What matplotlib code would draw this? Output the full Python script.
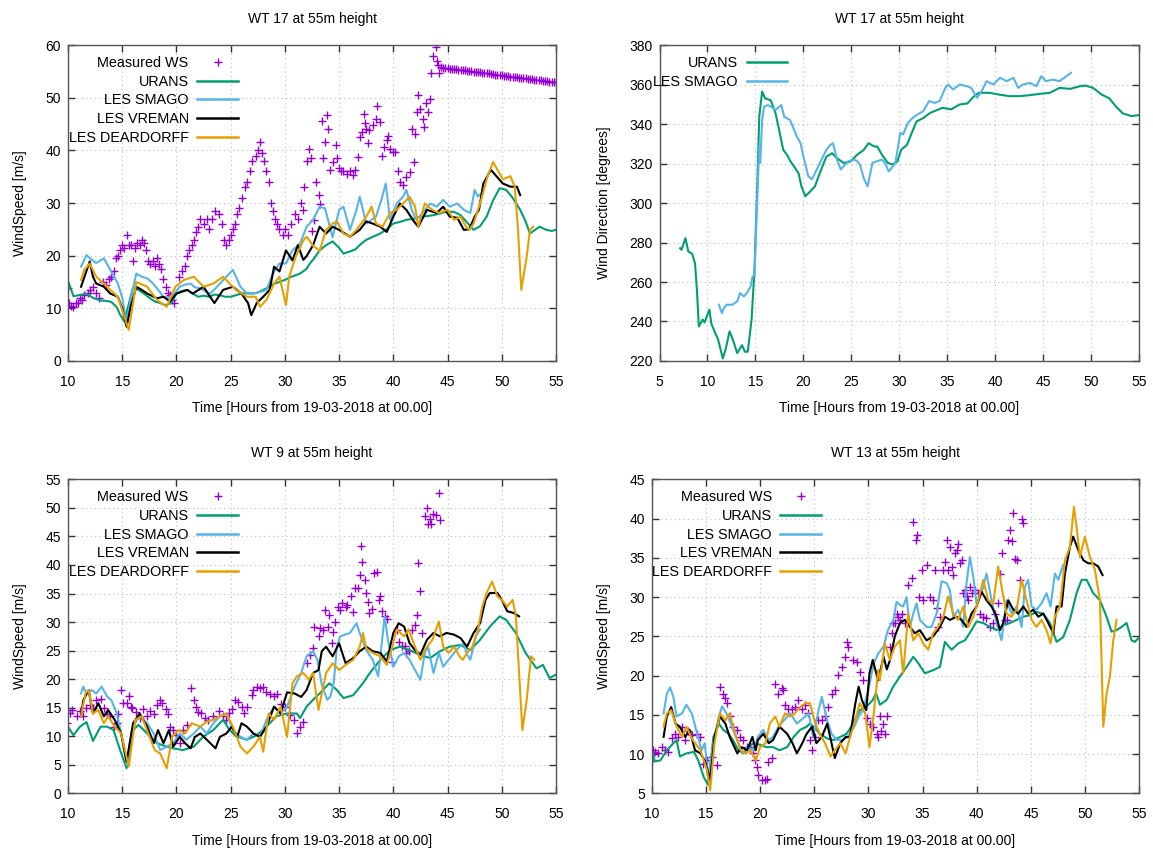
import matplotlib
matplotlib.use('Agg')
import matplotlib.pyplot as plt
from matplotlib.lines import Line2D
import numpy as np

plt.rcParams['font.family'] = ['Liberation Sans', 'DejaVu Sans']
plt.rcParams['font.size'] = 10

# ---------------- data (hour, value) ----------------
# WT 17 wind speed
wt17_meas = [(10.0, 13.8), (10.1, 11.0), (10.3, 10.5), (10.5, 10.3), (10.7, 11.0), (10.9, 11.0), (11.1, 12.0),
             (11.3, 11.5), (11.5, 12.5), (11.8, 13.0), (12.0, 13.5), (12.3, 14.0), (12.6, 13.0), (12.9, 12.0),
             (13.2, 15.0), (13.5, 14.5), (13.8, 15.5), (14.0, 16.0), (14.2, 17.0), (14.4, 19.5), (14.6, 20.0),
             (14.8, 21.0), (15.0, 22.0), (15.2, 21.5), (15.4, 24.0), (15.6, 22.0), (15.8, 22.0), (16.0, 19.0),
             (16.2, 21.5), (16.4, 22.5), (16.6, 22.0), (16.8, 23.0), (17.0, 22.5), (17.2, 21.0), (17.4, 19.0),
             (17.6, 18.5), (17.8, 19.0), (18.0, 18.0), (18.2, 19.5), (18.4, 18.5), (18.6, 17.5), (18.8, 15.5),
             (19.0, 14.0), (19.2, 13.0), (19.4, 12.5), (19.6, 11.5), (19.8, 11.0), (20.2, 16.0), (20.5, 17.0),
             (20.8, 18.0), (21.0, 20.0), (21.2, 21.0), (21.4, 22.0), (21.6, 23.0), (21.8, 24.5), (22.0, 25.5),
             (22.2, 27.0), (22.5, 26.0), (22.8, 27.0), (23.0, 25.0), (23.3, 27.0), (23.6, 28.5), (23.9, 28.0),
             (24.2, 26.0), (24.4, 23.0), (24.6, 22.0), (24.8, 23.0), (25.0, 24.0), (25.2, 25.0), (25.4, 26.0),
             (25.6, 28.0), (25.8, 29.0), (26.0, 31.0), (26.3, 33.0), (26.5, 34.0), (26.8, 36.0), (27.0, 38.0),
             (27.3, 39.0), (27.5, 40.0), (27.7, 41.5), (27.9, 39.5), (28.1, 38.0), (28.3, 36.0), (28.5, 34.0),
             (28.7, 30.0), (28.9, 28.5), (29.1, 27.0), (29.3, 26.0), (29.5, 25.0), (29.8, 24.0), (30.0, 25.0),
             (30.3, 24.0), (30.6, 26.0), (30.9, 28.0), (31.2, 27.0), (31.5, 30.0), (31.7, 28.7), (31.8, 33.0),
             (32.0, 38.0), (32.2, 40.3), (32.4, 38.6), (32.5, 24.6), (32.7, 26.8), (32.9, 34.0), (33.1, 31.5),
             (33.2, 29.9), (33.4, 45.5), (33.5, 38.6), (33.7, 41.5), (33.9, 46.7), (34.0, 44.0), (34.2, 36.3),
             (34.4, 37.7), (34.7, 41.0), (34.8, 38.5), (35.0, 36.6), (35.2, 36.0), (35.4, 36.0), (35.7, 35.6),
             (36.0, 36.0), (36.3, 35.3), (36.5, 36.3), (36.7, 38.8), (36.9, 42.5), (37.1, 43.5), (37.3, 46.9),
             (37.4, 45.1), (37.5, 44.0), (37.7, 41.3), (37.8, 43.9), (38.1, 44.8), (38.4, 45.9), (38.5, 48.5),
             (38.8, 45.4), (39.0, 38.9), (39.1, 40.7), (39.4, 42.0), (39.5, 42.7), (39.7, 40.2), (40.0, 39.7),
             (40.2, 39.6), (40.4, 36.0), (40.6, 33.9), (40.9, 33.4), (41.2, 35.0), (41.5, 35.8), (41.7, 44.0),
             (41.9, 37.8), (42.0, 43.1), (42.2, 47.3), (42.3, 50.5), (42.5, 47.8), (42.7, 45.9), (42.8, 44.5),
             (43.0, 48.9), (43.2, 47.2), (43.4, 49.7), (43.5, 54.7), (43.7, 58.0), (43.9, 59.7), (44.0, 57.0),
             (44.1, 56.2), (44.2, 54.7), (44.4, 55.8), (44.6, 55.7), (44.8, 55.6), (45.0, 55.6), (45.2, 55.5),
             (45.4, 55.5), (45.6, 55.4), (45.8, 55.4), (46.0, 55.3), (46.2, 55.3), (46.4, 55.2), (46.6, 55.2),
             (46.8, 55.1), (47.0, 55.0), (47.2, 55.0), (47.4, 54.9), (47.6, 54.9), (47.8, 54.8), (48.0, 54.8),
             (48.2, 54.7), (48.4, 54.7), (48.6, 54.6), (48.8, 54.6), (49.0, 54.5), (49.2, 54.5), (49.4, 54.4),
             (49.6, 54.4), (49.8, 54.3), (50.0, 54.3), (50.2, 54.2), (50.4, 54.2), (50.6, 54.1), (50.8, 54.0),
             (51.0, 54.0), (51.2, 53.9), (51.4, 53.9), (51.6, 53.8), (51.8, 53.8), (52.0, 53.7), (52.2, 53.7),
             (52.4, 53.6), (52.6, 53.5), (52.8, 53.5), (53.0, 53.4), (53.2, 53.4), (53.4, 53.3), (53.6, 53.3),
             (53.8, 53.2), (54.0, 53.1), (54.2, 53.1), (54.4, 53.0), (54.6, 53.0), (54.8, 52.9), (55.0, 52.9)]
wt17_urans = [(10.0, 15.2), (10.5, 12.3), (11.0, 12.5), (11.7, 12.8), (12.3, 12.0), (13.0, 11.5), (13.6, 11.4),
              (14.0, 11.2), (14.5, 10.2), (14.8, 8.8), (15.2, 7.5), (15.5, 10.0), (16.0, 14.0), (16.5, 13.5),
              (17.0, 12.8), (17.5, 12.0), (18.0, 11.3), (18.5, 11.0), (19.0, 10.6), (19.5, 11.0), (20.0, 12.8),
              (20.5, 13.3), (21.0, 13.5), (21.5, 12.8), (22.0, 12.2), (22.5, 12.4), (23.0, 12.2), (23.5, 12.6),
              (24.0, 12.5), (24.5, 12.2), (25.0, 12.2), (25.5, 12.5), (26.0, 12.8), (26.5, 12.9), (27.0, 12.8),
              (27.5, 13.0), (28.0, 13.5), (28.5, 14.0), (29.0, 14.7), (29.5, 15.0), (30.0, 15.4), (30.5, 15.9),
              (31.0, 16.3), (31.4, 16.6), (32.0, 17.5), (32.3, 18.5), (32.7, 19.5), (33.2, 21.0), (33.8, 22.0),
              (34.4, 22.7), (35.0, 21.5), (35.4, 20.4), (36.0, 20.8), (36.5, 21.2), (37.0, 22.2), (37.5, 23.0),
              (38.0, 23.5), (38.8, 24.2), (39.5, 25.2), (40.0, 26.1), (40.6, 26.4), (41.2, 26.8), (41.8, 27.0),
              (42.5, 27.4), (43.1, 27.5), (43.7, 27.7), (44.3, 28.0), (45.0, 28.4), (45.6, 28.3), (46.2, 27.7),
              (46.8, 26.3), (47.4, 24.9), (48.0, 25.6), (48.6, 27.4), (49.2, 30.5), (49.8, 32.8), (50.4, 32.5),
              (51.0, 31.0), (51.7, 28.7), (52.2, 26.5), (52.6, 24.2), (53.0, 24.8), (53.5, 25.5), (54.1, 24.9),
              (54.6, 24.7), (55.0, 24.9)]
wt17_smago = [(11.2, 17.9), (11.7, 20.1), (12.2, 19.2), (12.6, 18.6), (13.3, 19.5), (13.9, 17.3), (14.6, 14.7),
              (15.0, 12.0), (15.4, 7.2), (15.8, 12.0), (16.3, 16.6), (16.8, 16.0), (17.3, 15.7), (17.8, 14.8),
              (18.2, 13.8), (18.8, 12.2), (19.2, 12.0), (19.7, 12.5), (20.3, 14.1), (20.8, 14.5), (21.3, 14.7),
              (21.7, 14.0), (22.2, 13.8), (22.7, 13.2), (23.1, 12.8), (23.6, 13.8), (24.0, 14.7), (24.6, 16.0),
              (25.2, 17.3), (25.6, 15.5), (25.9, 14.1), (26.5, 12.8), (27.1, 12.8), (27.7, 13.1), (28.3, 13.5),
              (28.9, 16.6), (29.5, 18.5), (30.1, 18.5), (30.7, 21.0), (31.4, 22.3), (32.0, 25.5), (32.6, 26.8),
              (33.2, 29.3), (33.7, 29.0), (34.4, 23.5), (35.0, 28.7), (35.4, 29.3), (36.0, 24.9), (36.6, 28.7),
              (36.9, 31.2), (37.5, 26.1), (38.4, 27.4), (38.9, 30.6), (39.3, 33.7), (39.7, 26.8), (40.3, 29.9),
              (40.9, 31.2), (41.2, 32.5), (41.7, 28.7), (42.1, 26.8), (42.7, 28.1), (43.4, 29.9), (44.0, 29.3),
              (44.6, 30.6), (45.2, 29.3), (45.9, 29.9), (46.5, 28.7), (47.1, 28.1), (47.5, 32.5), (47.8, 31.2),
              (48.1, 31.8)]
wt17_vreman = [(11.2, 14.1), (11.6, 16.5), (12.0, 18.9), (12.3, 16.0), (12.6, 14.7), (13.3, 14.1), (13.9, 12.8),
               (14.6, 12.2), (15.0, 10.0), (15.4, 6.5), (15.8, 10.5), (16.3, 14.1), (16.8, 13.5), (17.3, 12.8),
               (18.2, 11.9), (18.8, 12.2), (19.4, 11.3), (20.0, 12.8), (21.0, 13.5), (21.5, 12.8), (22.5, 14.1),
               (23.0, 12.5), (23.5, 11.0), (24.3, 13.5), (25.2, 14.1), (26.0, 12.8), (26.6, 11.0), (26.9, 8.7),
               (27.4, 11.0), (28.0, 12.2), (28.6, 13.5), (29.0, 17.9), (29.5, 17.0), (30.1, 21.0), (30.7, 19.1),
               (31.2, 22.0), (31.7, 19.2), (32.0, 19.9), (32.6, 22.0), (33.2, 25.5), (33.8, 24.2), (34.4, 25.5),
               (35.0, 24.9), (36.0, 23.6), (36.9, 24.9), (37.5, 26.5), (38.1, 26.1), (38.8, 25.5), (39.4, 24.5),
               (40.0, 27.4), (40.6, 29.9), (41.2, 28.7), (41.9, 26.5), (42.3, 25.5), (43.1, 28.7), (44.0, 28.1),
               (44.6, 29.3), (45.2, 27.4), (45.9, 27.2), (46.5, 24.9), (47.0, 25.0), (47.5, 27.4), (47.9, 28.7),
               (48.3, 33.7), (49.0, 36.3), (49.5, 35.1), (50.1, 33.7), (50.8, 33.1), (51.4, 33.1), (51.7, 31.5)]
wt17_deard = [(11.2, 15.4), (11.5, 17.3), (12.0, 18.5), (12.6, 16.0), (13.3, 14.7), (13.9, 13.5), (14.6, 12.2),
              (15.1, 9.0), (15.6, 5.9), (16.0, 11.0), (16.3, 15.0), (17.3, 14.1), (18.2, 11.6), (19.1, 10.3),
              (19.9, 14.1), (20.7, 15.4), (21.6, 16.0), (22.5, 14.1), (23.4, 14.7), (24.3, 16.0), (24.9, 14.7),
              (25.5, 13.5), (26.5, 12.2), (27.3, 12.2), (27.7, 10.3), (28.3, 11.6), (29.0, 14.7), (29.5, 16.0),
              (30.1, 10.6), (30.4, 16.0), (31.0, 19.8), (31.7, 22.9), (32.0, 23.6), (32.6, 21.9), (33.2, 20.9),
              (33.8, 24.9), (34.4, 26.1), (34.8, 26.5), (35.4, 24.2), (36.0, 23.6), (36.6, 24.9), (37.5, 27.4),
              (38.0, 29.3), (38.4, 26.1), (39.0, 25.5), (39.7, 28.1), (40.3, 28.7), (40.9, 29.9), (41.5, 31.2),
              (42.0, 29.3), (42.3, 25.5), (42.9, 29.9), (43.6, 28.7), (44.2, 28.1), (45.0, 28.7), (45.6, 26.8),
              (46.2, 27.4), (46.7, 25.5), (47.0, 24.9), (47.4, 26.1), (48.1, 30.6), (48.7, 35.1), (49.2, 37.8),
              (49.6, 36.3), (50.1, 34.5), (50.8, 35.1), (51.2, 33.1), (51.5, 24.9), (51.8, 13.5), (52.3, 19.8),
              (52.6, 24.9), (52.9, 25.5)]

# WT 17 wind direction
wt17_dir_urans = [(7.15, 277.1), (7.3, 276.3), (7.7, 282.2), (8.0, 275.5), (8.4, 274.3), (8.7, 269.5), (8.9, 256.0),
                  (9.1, 237.5), (9.5, 241.0), (9.7, 239.5), (10.2, 246.0), (10.4, 239.0), (10.8, 234.2),
                  (11.1, 231.0), (11.6, 221.3), (11.9, 226.0), (12.3, 235.0), (12.6, 231.5), (13.1, 224.0),
                  (13.6, 228.0), (13.9, 224.7), (14.2, 224.7), (14.6, 241.0), (14.9, 266.2), (15.2, 310.0),
                  (15.4, 343.7), (15.7, 356.4), (16.0, 353.0), (16.6, 352.0), (17.1, 345.4), (17.4, 338.7),
                  (17.9, 326.9), (18.3, 324.4), (18.6, 321.5), (19.0, 318.7), (19.5, 315.0), (19.8, 308.4),
                  (20.2, 303.4), (20.7, 305.8), (21.2, 308.4), (21.7, 315.0), (22.4, 323.5), (23.0, 325.2),
                  (23.5, 322.7), (24.2, 320.3), (24.9, 321.0), (25.6, 324.4), (26.3, 326.9), (26.8, 330.3),
                  (27.4, 328.6), (27.7, 328.6), (28.2, 324.4), (28.8, 320.3), (29.3, 319.5), (29.8, 321.0),
                  (30.2, 327.0), (30.8, 329.4), (31.3, 335.5), (31.8, 341.3), (32.5, 343.0), (33.2, 345.6),
                  (33.9, 347.0), (34.5, 348.2), (35.4, 347.4), (36.3, 349.9), (37.1, 350.4), (37.8, 354.1),
                  (38.3, 355.8), (39.4, 355.8), (40.4, 354.9), (41.5, 354.1), (42.5, 354.1), (43.6, 354.6),
                  (44.7, 355.3), (45.7, 355.8), (46.7, 358.3), (47.8, 357.8), (48.9, 359.2), (49.4, 359.5),
                  (50.2, 358.3), (51.1, 354.9), (51.9, 353.0), (52.6, 348.8), (53.3, 345.4), (54.2, 344.0),
                  (55.0, 344.5)]
wt17_dir_smago = [(11.2, 248.5), (11.5, 244.2), (11.7, 246.7), (12.0, 248.5), (12.6, 248.5), (13.1, 250.2),
                  (13.4, 254.4), (13.8, 252.7), (14.1, 254.4), (14.5, 257.7), (14.7, 262.8), (14.9, 263.1),
                  (15.1, 289.8), (15.4, 328.6), (15.5, 320.3), (15.7, 342.1), (15.9, 348.8), (16.3, 349.6),
                  (16.6, 348.8), (17.1, 347.1), (17.7, 349.6), (18.0, 343.7), (18.6, 342.1), (18.9, 338.7),
                  (19.3, 333.8), (19.7, 330.4), (20.0, 323.7), (20.5, 313.7), (20.9, 312.0), (21.4, 317.0),
                  (21.9, 322.0), (22.4, 327.0), (22.8, 329.4), (23.1, 330.3), (23.5, 322.0), (23.9, 317.0),
                  (24.2, 318.7), (24.7, 321.2), (25.3, 322.0), (25.6, 321.2), (25.9, 319.5), (26.3, 312.5),
                  (26.7, 308.4), (27.2, 320.3), (27.7, 321.2), (28.2, 322.0), (28.5, 320.3), (28.9, 316.0),
                  (29.2, 317.7), (29.6, 320.3), (29.9, 329.4), (30.1, 335.5), (30.4, 334.7), (30.9, 340.6),
                  (31.4, 343.1), (31.9, 344.8), (32.5, 346.5), (33.1, 351.6), (33.7, 350.7), (34.2, 351.6),
                  (34.8, 358.3), (35.1, 360.0), (35.6, 357.5), (36.3, 360.0), (37.0, 359.2), (37.5, 358.3),
                  (38.1, 353.3), (38.6, 356.7), (39.1, 361.7), (39.8, 360.0), (40.5, 363.4), (41.2, 361.7),
                  (41.9, 363.4), (42.4, 358.3), (42.9, 360.0), (43.6, 360.8), (44.3, 359.2), (44.8, 364.2),
                  (45.3, 361.7), (46.0, 362.5), (46.7, 361.7), (47.2, 363.4), (47.9, 365.9)]

# WT 9 wind speed
wt9_meas = [(9.9, 12.3), (10.2, 14.0), (10.4, 14.6), (10.8, 13.5), (11.1, 14.4), (11.4, 13.5), (11.7, 14.9),
            (12.0, 15.5), (12.3, 14.9), (12.6, 16.3), (13.0, 16.6), (13.3, 14.9), (13.6, 13.9), (13.9, 13.5),
            (14.2, 11.7), (14.5, 12.3), (14.6, 13.9), (14.9, 18.1), (15.1, 15.8), (15.4, 15.8), (15.6, 17.0),
            (15.8, 15.2), (15.9, 14.9), (16.3, 14.2), (16.6, 13.2), (16.9, 14.8), (17.3, 13.5), (17.6, 14.5),
            (17.9, 13.9), (18.2, 15.4), (18.5, 16.3), (18.7, 15.8), (19.0, 14.8), (19.2, 13.9), (19.4, 11.7),
            (19.7, 11.1), (20.0, 10.2), (20.3, 8.8), (20.6, 11.1), (21.0, 12.0), (21.3, 18.4), (21.6, 16.4),
            (21.8, 15.2), (22.0, 14.2), (22.3, 14.0), (22.6, 13.2), (22.9, 12.9), (23.4, 13.5), (23.9, 14.5),
            (24.3, 13.5), (24.6, 12.9), (24.8, 14.0), (25.1, 14.8), (25.4, 16.4), (25.7, 16.1), (26.0, 15.2),
            (26.2, 14.0), (26.5, 15.2), (27.0, 17.3), (27.1, 18.1), (27.4, 18.7), (27.7, 18.4), (28.0, 18.7),
            (28.3, 17.8), (28.6, 17.5), (29.0, 17.1), (29.3, 17.4), (29.6, 15.6), (30.0, 15.2), (30.5, 13.7),
            (30.8, 12.9), (31.1, 10.5), (31.4, 11.7), (31.7, 12.5), (32.0, 22.8), (32.3, 24.3), (32.6, 25.4),
            (32.7, 29.2), (33.1, 27.5), (33.2, 28.9), (33.5, 28.7), (33.7, 32.2), (34.0, 29.1), (34.1, 31.2),
            (34.3, 26.3), (34.4, 28.2), (34.6, 30.1), (34.9, 32.7), (35.1, 32.2), (35.3, 33.3), (35.6, 32.7),
            (35.7, 33.0), (36.1, 34.5), (36.3, 31.8), (36.5, 36.0), (36.7, 36.0), (36.9, 38.3), (37.0, 43.3),
            (37.1, 40.6), (37.4, 37.3), (37.5, 35.1), (37.7, 33.6), (37.8, 31.6), (38.0, 32.3), (38.2, 38.6),
            (38.5, 38.8), (38.7, 33.9), (38.8, 34.5), (39.0, 31.9), (39.2, 31.0), (39.4, 30.6), (39.9, 23.1),
            (40.3, 28.7), (40.5, 26.6), (40.8, 25.8), (41.1, 25.9), (41.2, 24.6), (41.4, 25.0), (41.7, 28.7),
            (42.0, 29.5), (42.2, 31.3), (42.3, 40.4), (42.5, 35.4), (42.6, 28.1), (42.9, 48.5), (43.1, 50.0),
            (43.2, 47.1), (43.4, 48.0), (43.5, 47.1), (43.7, 49.0), (43.9, 48.8), (44.2, 52.6), (44.3, 47.8)]
wt9_urans = [(10.0, 11.7), (10.5, 10.2), (11.1, 11.7), (11.7, 12.5), (12.3, 9.2), (13.0, 11.7), (13.6, 11.7),
             (14.2, 11.1), (14.8, 7.6), (15.4, 4.4), (16.0, 11.1), (16.5, 12.0), (17.3, 10.5), (18.2, 8.8),
             (19.1, 8.2), (19.7, 7.9), (20.6, 7.6), (21.6, 8.2), (22.5, 10.0), (23.4, 11.1), (24.3, 12.9),
             (24.9, 11.1), (25.5, 10.0), (26.5, 9.4), (27.4, 10.2), (28.3, 11.7), (29.2, 13.5), (30.2, 14.0),
             (31.1, 14.0), (31.4, 13.2), (32.0, 15.2), (32.6, 16.4), (33.2, 17.5), (34.1, 19.3), (34.8, 18.1),
             (35.4, 16.7), (36.3, 17.2), (37.2, 19.3), (37.8, 21.0), (38.8, 23.4), (39.7, 25.1), (40.6, 25.7),
             (41.5, 25.1), (42.4, 24.3), (43.4, 23.7), (44.3, 24.9), (45.2, 25.7), (46.2, 26.0), (47.1, 25.1),
             (48.0, 26.9), (48.9, 29.2), (49.8, 31.0), (50.4, 30.4), (51.3, 28.1), (52.2, 24.6), (53.2, 21.9),
             (53.8, 22.5), (54.4, 20.2), (55.0, 20.8)]
wt9_smago = [(11.2, 17.5), (11.4, 18.7), (11.7, 17.5), (12.2, 18.1), (12.6, 17.5), (13.1, 18.7), (13.6, 17.0),
             (14.0, 16.3), (14.5, 14.0), (14.9, 10.5), (15.4, 5.0), (15.9, 11.1), (16.5, 13.5), (17.3, 12.3),
             (17.9, 10.5), (18.5, 7.6), (19.1, 8.2), (19.7, 8.8), (20.3, 10.5), (20.9, 9.4), (21.6, 10.5),
             (22.2, 11.7), (22.8, 10.5), (23.4, 12.3), (24.0, 13.5), (24.6, 14.0), (25.2, 11.1), (25.9, 9.9),
             (26.5, 9.4), (27.1, 10.5), (27.7, 9.9), (28.3, 12.9), (29.0, 15.2), (29.6, 14.0), (30.2, 15.2),
             (30.9, 18.7), (31.5, 21.1), (32.0, 24.0), (32.6, 24.9), (33.0, 23.4), (33.4, 19.0), (33.9, 16.4),
             (34.2, 17.0), (34.5, 19.3), (34.8, 25.7), (35.1, 27.5), (36.0, 28.1), (36.6, 29.8), (36.9, 28.1),
             (37.5, 25.1), (38.1, 23.4), (38.6, 20.5), (38.9, 25.7), (39.2, 31.0), (39.5, 26.9), (40.0, 22.2),
             (40.5, 24.0), (41.0, 24.6), (41.5, 23.4), (42.0, 21.6), (42.5, 19.9), (42.9, 24.6), (43.2, 25.7),
             (43.7, 21.1), (44.2, 24.6), (44.6, 22.2), (45.1, 23.4), (45.6, 24.6), (46.1, 25.7), (46.5, 26.3),
             (46.8, 24.3), (47.1, 23.4), (47.6, 27.5), (48.0, 28.7)]
wt9_vreman = [(11.2, 13.5), (11.4, 16.3), (11.9, 18.1), (12.3, 14.0), (12.8, 15.8), (13.3, 13.5), (13.7, 14.6),
              (14.3, 12.9), (14.9, 10.5), (15.4, 5.6), (16.0, 12.3), (16.6, 14.0), (17.3, 11.7), (17.9, 8.8),
              (18.3, 11.1), (18.8, 8.8), (19.3, 11.1), (19.7, 8.2), (20.3, 9.9), (20.8, 8.8), (21.3, 7.9),
              (21.7, 9.9), (22.2, 10.5), (22.8, 9.4), (23.6, 7.9), (24.0, 9.9), (24.6, 10.5), (25.1, 11.7),
              (25.6, 9.9), (26.0, 12.3), (26.5, 11.7), (27.1, 10.5), (27.7, 9.9), (28.3, 11.7), (29.0, 15.2),
              (29.6, 14.0), (30.2, 17.7), (30.9, 17.5), (31.5, 16.9), (32.0, 18.1), (32.6, 21.1), (33.1, 21.6),
              (33.4, 24.9), (33.8, 25.7), (34.4, 24.0), (35.0, 26.3), (35.6, 22.8), (36.3, 23.7), (36.9, 24.9),
              (37.5, 25.7), (38.1, 24.9), (38.8, 24.6), (39.4, 23.1), (40.0, 28.1), (40.5, 29.8), (41.0, 29.2),
              (41.5, 26.3), (42.0, 25.1), (42.5, 24.3), (43.1, 26.9), (43.7, 28.1), (44.3, 27.5), (44.9, 28.1),
              (45.6, 27.8), (46.2, 27.2), (46.8, 25.7), (47.4, 28.1), (48.0, 29.8), (48.5, 33.9), (48.9, 35.1),
              (49.6, 35.1), (50.0, 33.9), (50.5, 31.9), (51.1, 31.6), (51.6, 31.0)]
wt9_deard = [(11.2, 13.5), (11.6, 17.5), (11.9, 18.1), (12.3, 14.0), (12.8, 14.6), (13.3, 12.3), (13.7, 13.5),
             (14.3, 11.7), (14.9, 10.5), (15.6, 4.7), (16.2, 12.9), (16.8, 13.5), (17.4, 10.5), (18.0, 7.6),
             (18.5, 7.0), (19.1, 4.4), (19.6, 9.9), (20.2, 11.1), (20.8, 10.5), (21.4, 12.3), (22.2, 11.7),
             (22.8, 12.6), (23.4, 12.9), (24.0, 13.5), (24.6, 14.0), (25.2, 11.7), (25.9, 8.2), (26.5, 7.0),
             (27.1, 8.2), (27.7, 9.9), (28.0, 7.3), (28.5, 14.0), (29.0, 12.9), (29.6, 15.2), (30.2, 9.9),
             (30.7, 19.3), (31.1, 20.5), (31.7, 21.1), (32.2, 19.9), (32.6, 21.1), (33.1, 14.6), (33.4, 17.5),
             (33.8, 21.1), (34.4, 22.8), (35.0, 21.6), (35.6, 22.5), (36.3, 23.4), (36.9, 25.7), (37.2, 28.1),
             (37.5, 25.4), (38.1, 24.6), (38.8, 24.0), (39.4, 22.5), (39.9, 25.7), (40.3, 28.7), (41.0, 27.5),
             (41.4, 28.7), (42.0, 25.7), (42.5, 23.4), (42.9, 25.1), (43.6, 26.9), (44.2, 30.1), (44.6, 25.7),
             (45.1, 24.6), (45.6, 25.7), (46.1, 24.0), (46.4, 23.4), (46.8, 24.6), (47.3, 25.7), (47.8, 28.7),
             (48.2, 32.7), (48.6, 35.1), (49.1, 37.1), (49.6, 34.5), (50.0, 33.9), (50.5, 32.7), (51.0, 33.9),
             (51.3, 31.0), (51.6, 21.1), (51.9, 11.1), (52.3, 16.4), (52.7, 24.0), (53.0, 23.4)]

# WT 13 wind speed
wt13_meas = [(10.0, 9.1), (10.15, 10.5), (10.31, 10.3), (10.62, 10.1), (10.92, 10.9), (11.23, 10.5), (11.54, 10.3),
             (11.85, 12.0), (12.15, 12.6), (12.46, 12.2), (12.77, 13.5), (13.08, 11.8), (13.38, 12.9),
             (13.69, 12.4), (14.15, 12.6), (14.46, 12.2), (14.77, 8.8), (15.08, 9.2), (15.54, 9.7), (16.0, 8.6),
             (16.31, 18.6), (16.55, 17.7), (16.77, 17.1), (16.92, 16.5), (17.23, 14.8), (17.54, 13.5),
             (17.85, 13.1), (18.15, 12.2), (18.46, 11.8), (18.77, 10.9), (19.08, 10.9), (19.38, 10.1),
             (19.54, 9.2), (19.69, 8.4), (19.85, 7.3), (20.15, 6.7), (20.46, 6.7), (20.62, 6.9), (20.77, 9.0),
             (21.08, 9.5), (21.38, 19.0), (21.69, 17.7), (22.0, 18.4), (22.15, 18.2), (22.31, 16.3), (22.62, 15.8),
             (22.92, 15.8), (23.23, 16.0), (23.54, 16.9), (23.85, 15.8), (24.15, 16.3), (24.46, 15.2),
             (24.62, 11.8), (24.77, 10.5), (25.08, 12.2), (25.38, 14.3), (25.69, 14.3), (26.0, 14.8), (26.31, 16.0),
             (26.62, 17.7), (26.92, 18.2), (27.23, 20.1), (27.54, 21.1), (27.85, 22.4), (28.0, 24.3), (28.15, 23.7),
             (28.62, 22.0), (28.92, 21.8), (29.23, 20.5), (29.54, 19.4), (29.85, 14.6), (30.15, 13.9),
             (30.46, 13.5), (30.77, 12.6), (30.92, 12.2), (31.06, 14.8), (31.2, 12.9), (31.37, 13.9), (31.52, 12.6),
             (31.69, 14.8), (32.0, 23.7), (32.14, 25.4), (32.31, 26.7), (32.44, 26.7), (32.62, 27.9), (32.75, 27.5),
             (32.92, 27.1), (33.06, 27.9), (33.37, 26.7), (33.68, 31.5), (33.98, 32.4), (34.14, 39.6),
             (34.38, 37.3), (34.5, 37.9), (34.69, 30.0), (34.91, 33.5), (35.06, 29.6), (35.37, 34.1), (35.68, 30.0),
             (35.98, 29.6), (36.14, 33.5), (36.29, 28.6), (36.44, 26.2), (36.6, 27.5), (36.91, 33.5), (37.06, 34.5),
             (37.21, 37.3), (37.37, 33.5), (37.52, 36.4), (37.68, 33.8), (37.83, 32.8), (37.98, 35.6), (38.14, 36.0),
             (38.29, 36.8), (38.44, 34.3), (38.6, 34.7), (38.75, 30.5), (38.91, 30.9), (39.06, 30.1), (39.21, 29.6),
             (39.37, 31.3), (39.52, 30.5), (39.83, 30.9), (40.14, 30.5), (40.29, 27.9), (40.6, 27.5), (40.9, 27.3),
             (41.21, 26.2), (41.52, 26.7), (41.68, 27.9), (41.98, 29.2), (42.14, 33.0), (42.29, 35.6), (42.6, 27.1),
             (42.75, 27.1), (42.91, 37.3), (43.06, 38.5), (43.21, 37.1), (43.37, 40.7), (43.52, 34.9),
             (43.68, 34.7), (43.98, 32.2), (44.14, 40.0), (44.29, 39.4)]
wt13_urans = [(10.0, 10.5), (10.3, 9.1), (10.8, 9.2), (11.4, 10.5), (12.0, 11.4), (12.3, 11.8), (12.6, 9.7),
              (13.2, 10.1), (13.9, 10.3), (14.3, 9.2), (14.8, 7.1), (15.2, 6.1), (15.7, 12.2), (16.2, 13.9),
              (16.6, 13.1), (17.1, 12.6), (17.5, 11.8), (18.0, 10.5), (18.5, 10.1), (18.9, 10.9), (19.4, 11.4),
              (20.0, 11.2), (20.6, 10.9), (21.2, 10.9), (21.8, 10.5), (22.5, 10.9), (23.1, 12.2), (23.7, 13.1),
              (24.3, 13.5), (24.6, 13.9), (25.1, 13.3), (25.5, 12.6), (26.2, 12.0), (26.8, 11.8), (27.4, 12.2),
              (28.0, 12.6), (28.6, 13.9), (29.2, 15.6), (29.8, 16.0), (30.4, 16.9), (30.7, 17.8), (31.06, 16.3),
              (31.68, 16.9), (32.29, 18.6), (32.91, 19.9), (33.52, 21.1), (34.14, 22.4), (34.6, 21.6),
              (35.21, 20.3), (35.98, 20.7), (36.6, 21.1), (37.06, 24.3), (37.68, 23.3), (38.29, 24.1),
              (38.91, 24.5), (39.52, 25.8), (39.98, 26.9), (40.6, 26.7), (41.21, 26.2), (41.83, 25.8),
              (42.44, 26.4), (43.06, 26.7), (43.68, 27.1), (44.29, 27.5), (44.91, 27.7), (45.52, 28.1),
              (46.14, 27.9), (46.75, 26.7), (47.37, 24.3), (47.98, 24.9), (48.6, 27.1), (49.21, 30.5),
              (49.68, 32.2), (50.14, 32.2), (50.75, 30.5), (51.37, 29.6), (51.98, 27.5), (52.44, 25.6),
              (52.9, 25.8), (53.37, 26.2), (53.83, 26.7), (54.29, 24.5), (54.6, 24.3), (55.0, 24.9)]
wt13_smago = [(11.1, 15.2), (11.4, 17.7), (11.7, 18.5), (12.0, 17.3), (12.3, 14.8), (12.8, 15.2), (13.2, 16.3),
              (13.7, 15.2), (14.2, 12.6), (14.6, 10.5), (14.9, 11.4), (15.2, 7.1), (15.7, 11.4), (16.2, 14.8),
              (16.5, 16.1), (16.9, 15.2), (17.4, 13.5), (17.9, 11.8), (18.4, 10.1), (18.8, 10.9), (19.4, 10.5),
              (19.8, 12.2), (20.3, 13.1), (20.8, 11.8), (21.2, 12.2), (21.7, 13.5), (22.2, 14.3), (22.8, 15.2),
              (23.4, 13.9), (24.0, 14.6), (24.5, 15.2), (24.9, 12.2), (25.4, 15.6), (25.7, 17.3), (26.2, 14.3),
              (26.6, 12.6), (27.1, 11.8), (27.6, 11.8), (28.1, 12.2), (28.7, 13.5), (29.1, 14.8), (29.5, 15.6),
              (30.0, 18.2), (30.5, 21.6), (30.9, 22.8), (31.4, 23.7), (31.8, 25.8), (32.3, 27.1), (32.6, 29.4),
              (32.9, 29.0), (33.21, 28.8), (33.52, 30.0), (33.83, 26.2), (34.14, 27.9), (34.44, 29.2),
              (34.75, 27.1), (35.37, 26.2), (35.83, 26.2), (36.29, 27.9), (36.75, 32.0), (37.21, 31.8),
              (37.52, 30.9), (37.83, 27.5), (38.29, 28.4), (38.75, 26.2), (39.06, 31.8), (39.37, 35.1),
              (39.68, 32.6), (39.98, 29.2), (40.44, 30.5), (40.9, 33.0), (41.37, 29.6), (41.83, 26.7),
              (42.29, 24.5), (42.75, 29.6), (43.21, 27.9), (43.68, 28.8), (44.14, 26.2), (44.44, 31.3),
              (44.75, 32.2), (45.06, 28.8), (45.52, 28.4), (45.98, 29.2), (46.44, 30.5), (46.81, 28.8),
              (47.21, 33.0), (47.52, 32.2), (47.98, 34.1)]
wt13_vreman = [(11.1, 12.2), (11.4, 14.8), (11.8, 16.0), (12.2, 13.9), (12.6, 13.5), (13.1, 12.2), (13.5, 13.1),
               (14.0, 10.5), (14.5, 10.1), (14.9, 9.2), (15.4, 6.7), (15.8, 12.2), (16.3, 14.8), (16.8, 13.9),
               (17.2, 12.2), (17.9, 10.1), (18.3, 10.9), (18.8, 10.5), (19.3, 12.2), (19.6, 10.5), (19.8, 11.8),
               (20.3, 12.6), (20.8, 11.4), (21.2, 11.8), (21.8, 13.5), (22.5, 12.6), (23.0, 11.4), (23.4, 10.1),
               (23.9, 11.4), (24.3, 12.6), (24.8, 13.5), (25.2, 11.4), (25.7, 12.2), (26.2, 13.9), (26.6, 11.4),
               (26.9, 9.5), (27.4, 11.4), (27.9, 12.2), (28.3, 12.2), (28.8, 16.5), (29.1, 18.6), (29.4, 16.9),
               (29.8, 15.6), (30.1, 20.3), (30.4, 22.0), (30.9, 19.4), (31.4, 22.4), (31.7, 20.8), (32.0, 22.0),
               (32.44, 25.0), (32.91, 26.7), (33.37, 27.1), (33.83, 26.2), (34.29, 25.4), (34.75, 25.8),
               (35.37, 24.5), (35.98, 25.0), (36.6, 26.2), (37.06, 27.5), (37.52, 27.1), (38.14, 27.5),
               (38.6, 27.1), (39.06, 26.2), (39.52, 27.9), (39.98, 28.8), (40.44, 30.7), (40.9, 29.6),
               (41.37, 28.8), (41.83, 27.5), (42.14, 25.8), (42.44, 26.7), (42.91, 29.6), (43.37, 28.4),
               (43.83, 27.9), (44.29, 28.8), (44.75, 27.9), (45.21, 28.4), (45.68, 27.5), (46.14, 27.9),
               (46.6, 26.7), (47.06, 25.4), (47.37, 28.8), (47.83, 28.8), (48.14, 33.0), (48.6, 36.4),
               (48.9, 37.7), (49.37, 36.0), (49.83, 34.7), (50.29, 34.3), (50.75, 34.3), (51.21, 33.9),
               (51.61, 32.8)]
wt13_deard = [(11.1, 13.5), (11.4, 15.2), (11.8, 15.6), (12.3, 13.5), (12.8, 12.2), (13.2, 13.5), (13.8, 11.8),
              (14.5, 10.5), (15.1, 8.0), (15.4, 5.4), (15.8, 11.4), (16.3, 15.2), (16.8, 14.3), (17.2, 15.2),
              (17.7, 12.6), (18.2, 10.5), (18.7, 10.1), (19.1, 10.5), (19.6, 9.2), (20.0, 10.9), (20.5, 11.4),
              (20.9, 13.9), (21.4, 14.8), (21.8, 13.5), (22.3, 15.2), (22.8, 14.8), (23.2, 15.2), (23.7, 16.0),
              (24.2, 16.5), (24.6, 16.5), (25.1, 13.9), (25.5, 12.6), (26.0, 11.4), (26.5, 9.7), (26.9, 10.5),
              (27.4, 11.4), (27.9, 10.1), (28.3, 12.2), (28.8, 14.3), (29.2, 16.5), (29.7, 15.2), (30.1, 10.9),
              (30.5, 15.2), (30.9, 20.7), (31.06, 19.4), (31.52, 24.1), (31.98, 22.0), (32.44, 23.7),
              (32.91, 24.5), (33.21, 20.3), (33.68, 27.9), (34.14, 24.5), (34.6, 25.4), (35.06, 24.1),
              (35.52, 23.3), (35.98, 25.4), (36.44, 26.2), (36.91, 27.5), (37.37, 30.1), (37.83, 27.9),
              (38.29, 27.1), (38.75, 28.8), (39.21, 26.2), (39.68, 27.5), (40.14, 29.6), (40.6, 32.2),
              (41.06, 29.6), (41.52, 29.2), (41.98, 33.9), (42.29, 31.3), (42.75, 27.9), (43.21, 27.5),
              (43.68, 28.4), (44.14, 32.2), (44.6, 29.6), (45.06, 27.1), (45.52, 26.2), (45.98, 27.1),
              (46.44, 25.8), (46.81, 24.1), (47.21, 27.5), (47.68, 28.8), (48.14, 34.7), (48.6, 36.4),
              (48.97, 41.5), (49.21, 39.0), (49.52, 35.1), (49.98, 37.7), (50.45, 35.1), (50.9, 33.5),
              (51.37, 29.6), (51.68, 13.5), (51.98, 17.7), (52.29, 19.9), (52.6, 24.5), (52.9, 27.1)]

# ---------------- styling ----------------
C_MEAS = '#9400D3'
C_URANS = '#009E73'
C_SMAGO = '#56B4E9'
C_VREMAN = '#000000'
C_DEARD = '#E69F00'
LW = 1.5
XLABEL = 'Time [Hours from 19-03-2018 at 00.00]'


def xy(pairs):
    a = np.array(pairs)
    return a[:, 0], a[:, 1]


def style(ax, xlim, ylim, ystep, ylabel, title):
    ax.set_xlim(*xlim)
    ax.set_ylim(*ylim)
    ax.set_xticks(np.arange(xlim[0], xlim[1] + 1, 5))
    ax.set_yticks(np.arange(ylim[0], ylim[1] + ystep / 2, ystep))
    ax.set_axisbelow(True)
    ax.grid(True, color='#bdbdbd', linestyle=(0, (1, 3)), linewidth=0.8)
    ax.tick_params(axis='both', direction='in', top=True, right=True, length=5, width=1,
                   color='#333333', labelsize=10)
    ax.tick_params(axis='x', pad=10)
    ax.tick_params(axis='y', pad=5)
    for s in ax.spines.values():
        s.set_color('#555555')
        s.set_linewidth(1)
    ax.set_xlabel(XLABEL, fontsize=10, labelpad=9)
    ax.set_ylabel(ylabel, fontsize=10, labelpad=13)
    ax.set_title(title, fontsize=10, pad=16)


def add_legend(ax, entries, xanchor):
    handles, labels = [], []
    for lab, col, kind in entries:
        if kind == 'pt':
            h = Line2D([], [], linestyle='none', marker='+', color=col, markersize=6, markeredgewidth=1)
        else:
            h = Line2D([], [], color=col, linewidth=LW + 0.3)
        handles.append(h)
        labels.append(lab)
    ax.legend(handles, labels, loc='upper right', bbox_to_anchor=(xanchor, 0.9655),
              markerfirst=False, frameon=False, fontsize=10.4, handlelength=2.8,
              handletextpad=0.6, labelspacing=0.33, borderpad=0, borderaxespad=0,
              numpoints=1)


fig = plt.figure(figsize=(11.53, 8.51), dpi=100)
ax1 = fig.add_axes([0.0590, 0.5758, 0.4232, 0.3713])
ax2 = fig.add_axes([0.5720, 0.5758, 0.4159, 0.3713])
ax3 = fig.add_axes([0.0590, 0.0676, 0.4232, 0.3692])
ax4 = fig.add_axes([0.5652, 0.0676, 0.4229, 0.3692])

speed_panels = [
    (ax1, wt17_meas, wt17_urans, wt17_smago, wt17_vreman, wt17_deard, (0, 60), 10, 'WT 17 at 55m height', 0.348),
    (ax3, wt9_meas, wt9_urans, wt9_smago, wt9_vreman, wt9_deard, (0, 55), 5, 'WT 9 at 55m height', 0.348),
    (ax4, wt13_meas, wt13_urans, wt13_smago, wt13_vreman, wt13_deard, (5, 45), 5, 'WT 13 at 55m height', 0.347),
]
for ax, meas, ur, sm, vr, de, ylim, ystep, title, xa in speed_panels:
    ax.plot(*xy(meas), linestyle='none', marker='+', color=C_MEAS, markersize=6, markeredgewidth=1)
    ax.plot(*xy(ur), color=C_URANS, lw=LW)
    ax.plot(*xy(sm), color=C_SMAGO, lw=LW)
    ax.plot(*xy(vr), color=C_VREMAN, lw=LW)
    ax.plot(*xy(de), color=C_DEARD, lw=LW)
    style(ax, (10, 55), ylim, ystep, 'WindSpeed [m/s]', title)
    add_legend(ax, [('Measured WS', C_MEAS, 'pt'), ('URANS', C_URANS, 'ln'),
                    ('LES SMAGO', C_SMAGO, 'ln'), ('LES VREMAN', C_VREMAN, 'ln'),
                    ('LES DEARDORFF', C_DEARD, 'ln')], xa)

ax2.plot(*xy(wt17_dir_urans), color=C_URANS, lw=LW)
ax2.plot(*xy(wt17_dir_smago), color=C_SMAGO, lw=LW)
style(ax2, (5, 55), (220, 380), 20, 'Wind Direction [degrees]', 'WT 17 at 55m height')
add_legend(ax2, [('URANS', C_URANS, 'ln'), ('LES SMAGO', C_SMAGO, 'ln')], 0.266)

fig.savefig('out.png', dpi=100)
